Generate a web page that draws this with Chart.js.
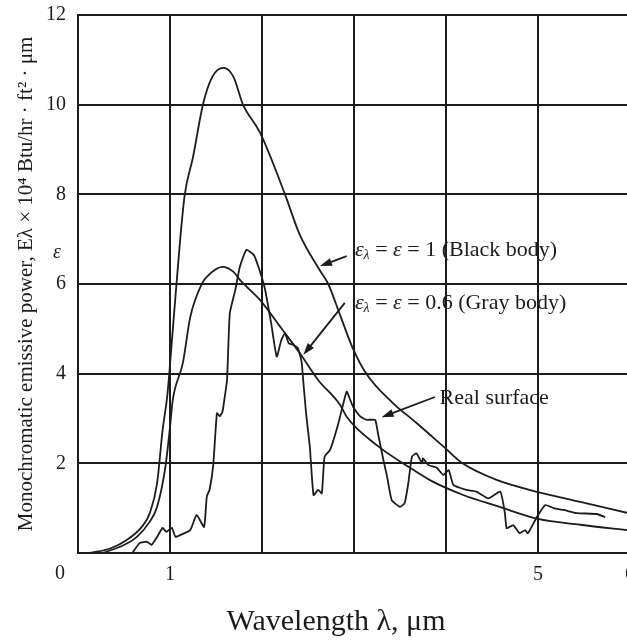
<!DOCTYPE html>
<html>
<head>
<meta charset="utf-8">
<script src="https://cdn.jsdelivr.net/npm/chart.js@4.4.0/dist/chart.umd.min.js"></script>
<style>
  html, body { margin: 0; padding: 0; background: #fff; overflow: hidden; }
  #wrap { position: relative; width: 640px; height: 640px; }
</style>
</head>
<body>
<div id="wrap"><canvas id="chart"></canvas></div>
<script>
// black body (eps = 1)
const blackX = [0.13, 0.35, 0.53, 0.7, 0.78, 0.86, 0.92, 0.97, 1.03, 1.11, 1.16, 1.25, 1.36, 1.46, 1.58, 1.69, 1.79, 1.98, 2.25, 2.41, 2.63, 2.72, 2.85, 2.98, 3.14, 3.42, 3.68, 3.98, 4.18, 4.55, 5.0, 5.46, 6.0];
const blackY = [0, 0.1, 0.29, 0.6, 0.89, 1.56, 2.75, 3.5, 4.97, 6.98, 7.99, 8.83, 10.02, 10.62, 10.82, 10.62, 10.02, 9.37, 8.0, 7.1, 6.3, 6.0, 5.3, 4.6, 3.98, 3.35, 2.9, 2.36, 2.0, 1.63, 1.36, 1.14, 0.88];

// gray body (eps = 0.6)
const grayX = [0.27, 0.5, 0.64, 0.78, 0.86, 0.95, 1.0, 1.03, 1.14, 1.22, 1.35, 1.4, 1.57, 1.69, 1.76, 1.98, 2.2, 2.41, 2.61, 2.85, 2.92, 3.25, 3.61, 3.83, 4.18, 4.55, 5.0, 5.46, 6.0];
const grayY = [0, 0.18, 0.36, 0.7, 1.03, 1.92, 2.81, 3.41, 4.24, 5.26, 6.02, 6.16, 6.38, 6.27, 6.09, 5.64, 5.04, 4.46, 3.86, 3.3, 3.04, 2.4, 1.9, 1.62, 1.3, 1.05, 0.76, 0.63, 0.5];

// real surface
const realX = [0.59, 0.67, 0.75, 0.8, 0.86, 0.92, 0.96, 1.02, 1.06, 1.11, 1.22, 1.29, 1.37, 1.4, 1.43, 1.47, 1.51, 1.54, 1.57, 1.59, 1.62, 1.65, 1.71, 1.76, 1.83, 1.91, 1.96, 2.03, 2.1, 2.16, 2.21, 2.25, 2.29, 2.34, 2.39, 2.43, 2.45, 2.48, 2.52, 2.56, 2.61, 2.65, 2.68, 2.74, 2.83, 2.92, 2.96, 2.99, 3.07, 3.14, 3.23, 3.26, 3.32, 3.36, 3.41, 3.5, 3.55, 3.59, 3.63, 3.68, 3.74, 3.75, 3.81, 3.9, 3.97, 4.03, 4.08, 4.22, 4.33, 4.46, 4.59, 4.64, 4.66, 4.73, 4.8, 4.86, 4.89, 4.99, 5.08, 5.17, 5.28, 5.42, 5.64, 5.73];
const realY = [0, 0.22, 0.25, 0.18, 0.36, 0.56, 0.47, 0.56, 0.36, 0.4, 0.51, 0.85, 0.58, 1.26, 1.41, 1.96, 3.12, 3.05, 3.15, 3.41, 3.86, 5.35, 5.87, 6.39, 6.76, 6.65, 6.39, 5.91, 5.12, 4.38, 4.75, 4.9, 4.68, 4.64, 4.57, 4.27, 3.8, 3.1, 2.37, 1.29, 1.41, 1.33, 2.15, 2.3, 2.89, 3.6, 3.41, 3.26, 3.04, 2.97, 2.97, 2.67, 2.07, 1.7, 1.18, 1.03, 1.11, 1.55, 2.15, 2.22, 2.0, 2.11, 1.96, 1.9, 1.74, 1.85, 1.52, 1.41, 1.37, 1.22, 1.37, 0.89, 0.55, 0.62, 0.44, 0.51, 0.44, 0.81, 1.07, 1.0, 0.96, 0.89, 0.87, 0.8];

const xTickLabels = [1, 5, 6];
const yTickLabels = [2, 4, 6, 8, 10, 12];

const yTitle = 'Monochromatic emissive power, Eλ × 10⁴ Btu/hr · ft² · μm';
const xTitle = 'Wavelength λ, μm';

const ink = '#1c1c1c';
const serif = "'Liberation Serif', 'Times New Roman', serif";

function pts(xs, ys) {
    return xs.map((x, i) => ({x: x, y: ys[i]}));
}

// label pieces: [text, italic, subscript]
const notes = [
    {parts: [['ε', 1, 0], ['λ', 1, 1], [' = ', 0, 0], ['ε', 1, 0], [' = 1 (Black body)', 0, 0]],
     at: [3.01, 6.76], tail: [2.92, 6.62], head: [2.63, 6.4]},
    {parts: [['ε', 1, 0], ['λ', 1, 1], [' = ', 0, 0], ['ε', 1, 0], [' = 0.6 (Gray body)', 0, 0]],
     at: [3.01, 5.58], tail: [2.9, 5.58], head: [2.45, 4.42]},
    {parts: [['Real surface', 0, 0]],
     at: [3.93, 3.46], tail: [3.88, 3.48], head: [3.3, 3.03]}
];

function drawArrow(ctx, x1, y1, x2, y2){
    const a = Math.atan2(y2 - y1, x2 - x1);
    ctx.beginPath();
    ctx.moveTo(x1, y1);
    ctx.lineTo(x2 - 8 * Math.cos(a), y2 - 8 * Math.sin(a));
    ctx.stroke();
    ctx.beginPath();
    ctx.moveTo(x2, y2);
    ctx.lineTo(x2 - 12 * Math.cos(a) + 4 * Math.sin(a), y2 - 12 * Math.sin(a) - 4 * Math.cos(a));
    ctx.lineTo(x2 - 12 * Math.cos(a) - 4 * Math.sin(a), y2 - 12 * Math.sin(a) + 4 * Math.cos(a));
    ctx.closePath();
    ctx.fill();
}

const notesPlugin = {
    id: 'notes',
    afterDraw(chart){
        const ctx = chart.ctx;
        const sx = chart.scales.x, sy = chart.scales.y;
        ctx.save();
        ctx.fillStyle = ink;
        ctx.strokeStyle = ink;
        ctx.lineWidth = 1.8;
        ctx.textBaseline = 'middle';
        ctx.textAlign = 'left';

        notes.forEach(n => {
            let x = sx.getPixelForValue(n.at[0]);
            const y = sy.getPixelForValue(n.at[1]);
            n.parts.forEach(p => {
                const size = p[2] ? 14 : 22;
                ctx.font = (p[1] ? 'italic ' : '') + size + 'px ' + serif;
                ctx.fillText(p[0], x, y + (p[2] ? 5 : 0));
                x += ctx.measureText(p[0]).width;
            });
            drawArrow(ctx, sx.getPixelForValue(n.tail[0]), sy.getPixelForValue(n.tail[1]),
                sx.getPixelForValue(n.head[0]), sy.getPixelForValue(n.head[1]));
        });

        // epsilon on the y axis, origin zero
        ctx.textAlign = 'right';
        ctx.font = 'italic 20px ' + serif;
        ctx.fillText('ε', chart.chartArea.left - 17, sy.getPixelForValue(6.7));
        ctx.textAlign = 'center';
        ctx.font = '20px ' + serif;
        ctx.fillText('0', chart.chartArea.left - 18, chart.chartArea.bottom + 21);

        // x axis title
        ctx.font = '30px ' + serif;
        ctx.fillText(xTitle, 336, 622);
        ctx.restore();
    }
};

function line(data, smooth){
    return {
        data: data,
        borderColor: ink,
        borderWidth: 1.8,
        pointRadius: 0,
        fill: false,
        tension: smooth ? 0.4 : 0.15,
        cubicInterpolationMode: smooth ? 'monotone' : 'default'
    };
}

new Chart(document.getElementById('chart'), {
    type: 'line',
    data: {
        datasets: [
            line(pts(blackX, blackY), true),
            line(pts(grayX, grayY), true),
            line(pts(realX, realY), false)
        ]
    },
    options: {
        responsive: true,
        maintainAspectRatio: false,
        animation: false,
        layout: {padding: {top: 15, right: 10, left: 0, bottom: 0}},
        plugins: {legend: {display: false}, tooltip: {enabled: false}},
        scales: {
            x: {
                type: 'linear', min: 0, max: 6,
                ticks: {
                    stepSize: 1, autoSkip: false, maxRotation: 0, padding: 10, color: ink,
                    font: {family: serif, size: 20},
                    callback: v => xTickLabels.includes(v) ? String(v) : ''
                },
                grid: {color: ink, lineWidth: 2, drawTicks: false},
                border: {color: ink, width: 2},
                afterFit: s => { s.height = 87; s.paddingLeft = 0; s.paddingRight = 0; }
            },
            y: {
                min: 0, max: 12,
                ticks: {
                    stepSize: 1, autoSkip: false, padding: 12, color: ink,
                    font: {family: serif, size: 20},
                    callback: v => yTickLabels.includes(v) ? String(v) : ''
                },
                grid: {
                    color: c => (c.tick && c.tick.value % 2 === 0) ? ink : 'rgba(0,0,0,0)',
                    lineWidth: 2, drawTicks: false
                },
                border: {color: ink, width: 2},
                title: {display: true, text: yTitle, color: ink, font: {family: serif, size: 21}, padding: {top: 14, bottom: 0}},
                afterFit: s => { s.width = 78; s.paddingTop = 0; s.paddingBottom = 0; }
            }
        }
    },
    plugins: [notesPlugin]
});
</script>
</body>
</html>
